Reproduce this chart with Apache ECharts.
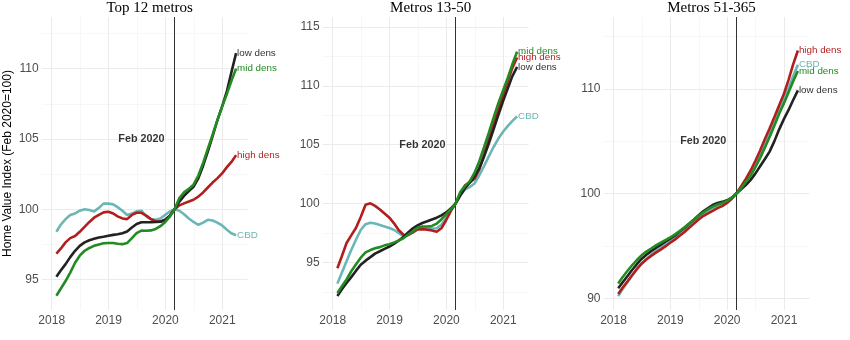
<!DOCTYPE html>
<html><head><meta charset="utf-8">
<script src="https://cdn.jsdelivr.net/npm/echarts@6/dist/echarts.min.js"></script>
<style>html,body{margin:0;padding:0;background:#fff}#c{width:850px;height:340px}</style>
</head><body><div id="c"></div>
<script>
// Monthly observations, Jan 2018 – Mar 2021 (month-end dates)
const months = [];
for (let y = 2018; y <= 2021; y++) for (let m = 1; m <= 12; m++) { if (y === 2021 && m > 3) break; months.push(y + '-' + String(m).padStart(2, '0')); }
const refMonth = '2020-02';
const refLabel = 'Feb 2020';
const refLevel = 105;

const panelTitles = ['Top 12 metros', 'Metros 13-50', 'Metros 51-365'];
const seriesNames = ['CBD', 'high dens', 'low dens', 'mid dens'];

// Top 12 metros
const p1_cbd  = [98.4,98.9,99.3,99.6,99.7,99.9,100.0,99.95,99.85,100.1,100.4,100.4,100.35,100.15,99.9,99.6,99.7,99.85,99.9,99.5,99.3,99.25,99.35,99.6,99.85,100.0,99.9,99.65,99.35,99.1,98.9,99.05,99.25,99.2,99.05,98.85,98.55,98.3,98.15];
const p1_high = [96.85,97.2,97.65,97.95,98.1,98.4,98.75,99.1,99.4,99.6,99.78,99.83,99.7,99.5,99.35,99.3,99.6,99.75,99.75,99.55,99.3,99.15,99.12,99.25,99.55,100.0,100.28,100.42,100.55,100.68,100.9,101.2,101.55,101.9,102.2,102.55,103.0,103.35,103.85];
const p1_low  = [95.2,95.65,96.1,96.6,97.05,97.4,97.65,97.8,97.9,98.0,98.05,98.12,98.18,98.22,98.3,98.42,98.7,98.95,99.08,99.08,99.08,99.1,99.12,99.25,99.55,100.0,100.55,100.95,101.3,101.6,102.2,103.1,104.1,105.2,106.3,107.3,108.4,109.7,111.1];
const p1_mid  = [93.85,94.35,94.9,95.5,96.2,96.7,97.05,97.25,97.4,97.5,97.58,97.6,97.6,97.55,97.52,97.6,97.95,98.3,98.48,98.47,98.5,98.6,98.8,99.1,99.5,100.0,100.8,101.2,101.45,101.75,102.4,103.3,104.3,105.3,106.3,107.3,108.2,109.1,110.0];
// Metros 13-50
const p2_cbd  = [93.2,94.1,95.1,96.05,96.95,97.75,98.25,98.37,98.3,98.17,98.05,97.92,97.75,97.5,97.22,97.35,97.6,97.85,97.98,97.95,97.88,97.9,98.2,98.8,99.4,100.0,100.7,101.2,101.4,101.7,102.4,103.2,104.0,104.8,105.5,106.1,106.6,107.0,107.4];
const p2_high = [94.5,95.5,96.65,97.3,97.95,98.85,99.9,100.02,99.8,99.5,99.15,98.8,98.3,97.75,97.35,97.33,97.55,97.8,97.83,97.78,97.72,97.61,97.9,98.6,99.4,100.0,100.85,101.55,101.8,102.1,102.9,104.2,105.5,106.8,108.0,109.2,110.4,111.5,112.4];
const p2_low  = [92.15,92.7,93.25,93.75,94.3,94.8,95.15,95.45,95.75,95.95,96.15,96.35,96.6,96.85,97.15,97.55,97.9,98.15,98.35,98.5,98.65,98.8,99.0,99.25,99.6,100.0,100.7,101.3,101.8,102.3,103.0,104.0,105.1,106.3,107.5,108.7,109.8,110.8,111.6];
const p2_mid  = [92.4,92.95,93.55,94.25,94.85,95.4,95.85,96.05,96.2,96.3,96.45,96.55,96.7,96.85,97.05,97.35,97.65,97.95,98.05,98.05,98.1,98.3,98.65,99.1,99.55,100.0,101.0,101.5,101.9,102.6,103.6,104.8,106.0,107.3,108.5,109.6,110.7,111.8,112.9];
// Metros 51-365
const p3_cbd  = [90.2,90.85,91.5,92.15,92.75,93.3,93.75,94.15,94.5,94.8,95.1,95.45,95.75,96.1,96.5,96.9,97.3,97.7,98.05,98.35,98.6,98.8,98.95,99.2,99.55,100.0,100.55,101.2,101.9,102.7,103.6,104.6,105.7,106.8,107.9,109.0,110.1,111.2,112.3];
const p3_high = [90.4,91.0,91.6,92.2,92.8,93.3,93.7,94.05,94.35,94.65,94.95,95.3,95.6,95.95,96.3,96.7,97.1,97.5,97.85,98.1,98.35,98.6,98.8,99.1,99.5,100.0,100.7,101.4,102.2,103.1,104.1,105.2,106.2,107.3,108.4,109.5,110.9,112.3,113.65];
const p3_low  = [90.95,91.5,92.1,92.7,93.25,93.75,94.15,94.5,94.8,95.1,95.4,95.7,96.0,96.35,96.7,97.1,97.5,97.9,98.3,98.6,98.9,99.1,99.2,99.35,99.6,100.0,100.4,100.8,101.3,101.9,102.6,103.3,104.0,105.0,106.1,107.1,108.0,108.9,109.85];
const p3_mid  = [91.4,92.0,92.6,93.15,93.65,94.1,94.45,94.75,95.05,95.3,95.55,95.8,96.1,96.4,96.75,97.1,97.5,97.85,98.2,98.5,98.75,98.95,99.1,99.3,99.6,100.0,100.5,101.1,101.7,102.5,103.4,104.4,105.4,106.5,107.6,108.6,109.7,110.7,111.7];

// Tick labels
const xMajorTicks = [2018, 2019, 2020, 2021];
const xMinorTicks = [2018.5, 2019.5, 2020.5];
const yMajorTicks = [[95, 100, 105, 110], [95, 100, 105, 110, 115], [90, 100, 110]];
const yMinorTicks = [[97.5, 102.5, 107.5, 112.5], [92.5, 97.5, 102.5, 107.5, 112.5], [95, 105, 115]];
const yTitle = 'Home Value Index (Feb 2020=100)';

const panelData = [
  [p1_cbd, p1_high, p1_low, p1_mid],
  [p2_cbd, p2_high, p2_low, p2_mid],
  [p3_cbd, p3_high, p3_low, p3_mid]
];

// ---- styling / layout ----
const colors = { 'CBD': '#6bb6b6', 'high dens': '#b21e1e', 'low dens': '#222222', 'mid dens': '#228b22' };
const labelColors = { 'CBD': '#6bb6b6', 'high dens': '#b21e1e', 'low dens': '#333333', 'mid dens': '#228b22' };
const gridLefts = [41.7, 322.7, 603.5];
const gridW = 206, gridTop = 17, gridH = 293;
const xRange = [2017.824, 2021.448];
const yRanges = [[92.84, 113.67], [90.96, 115.84], [88.88, 116.85]];
const gridColor = '#ebebeb';

function monthEnd(s) {
  const [y, m] = s.split('-').map(Number);
  const d = Date.UTC(y, m, 0);
  const a = Date.UTC(y, 0, 1), b = Date.UTC(y + 1, 0, 1);
  return y + (d - a) / (b - a);
}
const xs = months.map(monthEnd);
const refX = xs[months.indexOf(refMonth)];

const grids = [], xAxes = [], yAxes = [], series = [], titles = [];
panelData.forEach((lines, p) => {
  grids.push({ left: gridLefts[p], top: gridTop, width: gridW, height: gridH, containLabel: false });
  titles.push({ text: panelTitles[p], left: gridLefts[p] + gridW / 2, top: -4, textAlign: 'center',
    textStyle: { fontFamily: 'Liberation Serif', fontSize: 15, fontWeight: 'normal', color: '#000' } });
  // major x
  xAxes.push({ type: 'value', gridIndex: p, min: xRange[0], max: xRange[1], position: 'bottom',
    axisLine: { show: false }, axisTick: { show: false, customValues: xMajorTicks },
    axisLabel: { customValues: xMajorTicks, color: '#4d4d4d', fontSize: 12, margin: 5, fontFamily: 'Liberation Sans', formatter: v => String(Math.round(v)) },
    splitLine: { show: true, lineStyle: { color: gridColor, width: 1 } } });
  // minor x
  xAxes.push({ type: 'value', gridIndex: p, min: xRange[0], max: xRange[1], position: 'top',
    axisLine: { show: false }, axisTick: { show: false, customValues: xMinorTicks }, axisLabel: { show: false },
    splitLine: { show: true, lineStyle: { color: '#f2f2f2', width: 0.6 } } });
  const yMaj = { type: 'value', gridIndex: p, min: yRanges[p][0], max: yRanges[p][1], position: 'left',
    axisLine: { show: false }, axisTick: { show: false, customValues: yMajorTicks[p] },
    axisLabel: { customValues: yMajorTicks[p], color: '#4d4d4d', fontSize: 12, margin: 3, fontFamily: 'Liberation Sans' },
    splitLine: { show: true, lineStyle: { color: gridColor, width: 1 } } };
  if (p === 0) {
    yMaj.name = yTitle; yMaj.nameLocation = 'middle'; yMaj.nameGap = 28;
    yMaj.nameTextStyle = { color: '#000', fontSize: 12, fontFamily: 'Liberation Sans' };
  }
  yAxes.push(yMaj);
  yAxes.push({ type: 'value', gridIndex: p, min: yRanges[p][0], max: yRanges[p][1], position: 'right',
    axisLine: { show: false }, axisTick: { show: false, customValues: yMinorTicks[p] }, axisLabel: { show: false },
    splitLine: { show: true, lineStyle: { color: '#f2f2f2', width: 0.6 } } });

  lines.forEach((vals, k) => {
    const name = seriesNames[k];
    series.push({ type: 'line', name: name, xAxisIndex: 2 * p, yAxisIndex: 2 * p,
      data: vals.map((v, i) => [xs[i], v]), showSymbol: false, symbol: 'none', smooth: false,
      lineStyle: { color: colors[name], width: 2.6 }, itemStyle: { color: colors[name] },
      endLabel: { show: true, formatter: name, color: labelColors[name], fontSize: 9.8, distance: 1, fontFamily: 'Liberation Sans' },
      z: 3 + k });
  });
  series.push({ type: 'scatter', xAxisIndex: 2 * p, yAxisIndex: 2 * p, data: [[refX, refLevel]], symbolSize: 0,
    label: { show: true, position: 'left', distance: 10, formatter: refLabel, fontWeight: 'bold', fontSize: 10.8, color: '#000', fontFamily: 'Liberation Sans' },
    markLine: { symbol: 'none', silent: true, label: { show: false }, animation: false,
      lineStyle: { color: '#333', width: 1, type: 'solid' }, data: [{ xAxis: refX }] }, z: 2 });
});

const chart = echarts.init(document.getElementById('c'), null, { renderer: 'canvas' });
chart.setOption({ animation: false, backgroundColor: '#fff', title: titles, grid: grids, xAxis: xAxes, yAxis: yAxes, series: series });
</script></body></html>
